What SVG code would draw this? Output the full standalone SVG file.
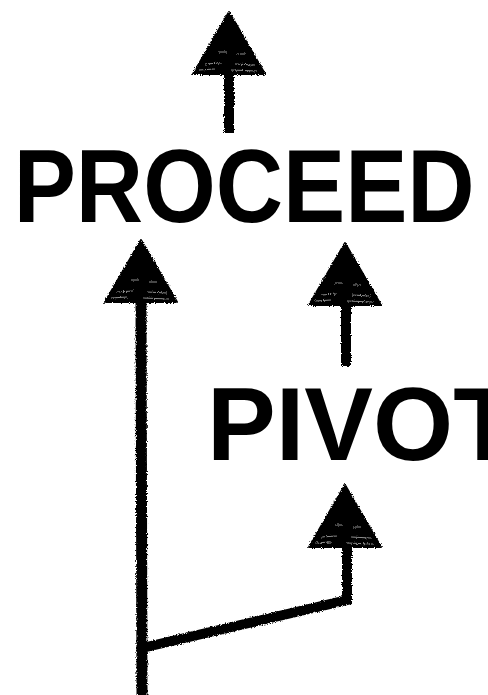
<svg xmlns="http://www.w3.org/2000/svg" width="488" height="695" viewBox="0 0 488 695">
<style>
.lbl{font-family:"Liberation Sans","DejaVu Sans",Arial,sans-serif;font-weight:bold;font-size:103px;fill:#000}
.ink{fill:#000;stroke:#000;stroke-linejoin:round}
.stem{stroke:#000;stroke-linecap:butt;fill:none}
.streak{stroke:#fff;stroke-width:1.2;opacity:.55;fill:none}
</style>
<defs>
<filter id="rough" x="-10%" y="-10%" width="120%" height="120%">
<feTurbulence type="fractalNoise" baseFrequency="0.9" numOctaves="2" seed="3" result="n"/>
<feDisplacementMap in="SourceGraphic" in2="n" scale="3.5" xChannelSelector="R" yChannelSelector="G"/>
</filter>
<g id="head">
<path class="ink" stroke-width="2" d="M0,0 L36,62 L-36,62 Z"/>
<path class="streak" d="M-24,52 L-8,51 M6,52 L26,53 M-30,58 L-14,57 M2,58 L28,59 M-10,40 L-2,40 M8,42 L16,42"/>
</g>
</defs>
<g id="connectors" filter="url(#rough)">
<g id="arrow-top">
<use href="#head" x="229" y="12"/>
<path class="stem" stroke-width="10" d="M229,72 L229,133"/>
</g>
<g id="arrow-left">
<use href="#head" x="141" y="240"/>
<path class="stem" stroke-width="11" d="M141,300 L142,695"/>
</g>
<g id="arrow-pivot">
<use href="#head" x="345" y="243"/>
<path class="stem" stroke-width="10" d="M346,303 L346,366"/>
</g>
<g id="arrow-branch">
<use href="#head" x="345" y="485"/>
<path class="stem" stroke-width="10" stroke-linejoin="miter" d="M347,545 L347,600 L142,648"/>
</g>
</g>
<g id="node-proceed">
<text class="lbl" transform="translate(13.7,222) scale(0.905,1)" x="0" y="0">PROCEED</text>
</g>
<g id="node-pivot">
<text class="lbl" x="207" y="460">PIVOT</text>
</g>
</svg>
